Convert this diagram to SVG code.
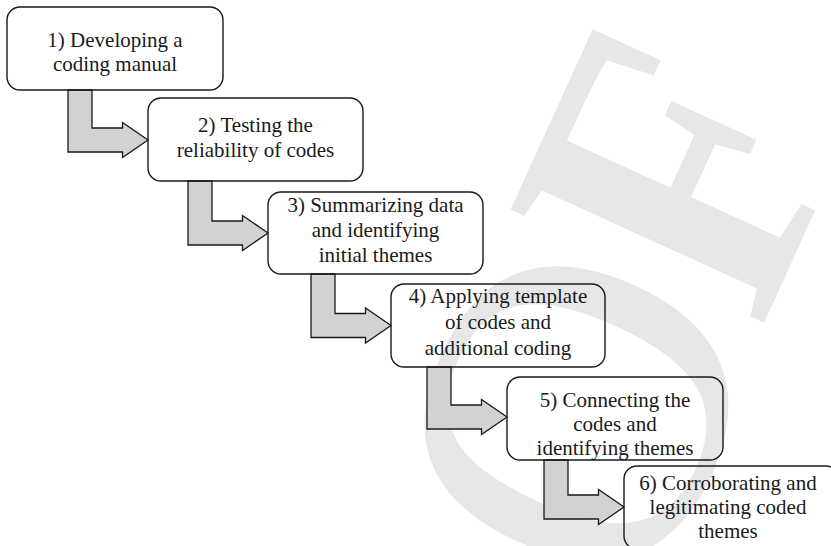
<svg xmlns="http://www.w3.org/2000/svg" width="831" height="546" viewBox="0 0 831 546">
  <style>
    .wm { font-family: "Liberation Serif", "Times New Roman", serif; fill: #e6e7e8; }
    .box { fill: none; stroke: #1a1a1a; stroke-width: 1.4; }
    .arrow { fill: #d2d2d2; stroke: #1a1a1a; stroke-width: 1.3; stroke-linejoin: miter; }
    .lbl { font-family: "Liberation Serif", "Times New Roman", serif; font-size: 21px; fill: #1a1a1a; text-anchor: middle; }
  </style>
  <rect width="831" height="546" fill="#ffffff"/>

  <!-- background watermark letters -->
  <g id="watermark">
    <text class="wm" font-size="440" transform="translate(641.6,617.9) rotate(-65.5)">O</text>
    <text class="wm" font-size="424" font-weight="bold" transform="translate(760.5,330.5) rotate(-65.5) scale(0.857,1)">F</text>
  </g>

  <!-- bent block arrows between steps -->
  <g id="connectors">
    <path class="arrow" d="M68,90 L92,90 L92,128 L122.5,128 L122.5,122.5 L148,140 L122.5,157.5 L122.5,152 L68,152 Z"/>
    <path class="arrow" d="M188,181 L212,181 L212,221 L242.5,221 L242.5,215.5 L268,233 L242.5,250.5 L242.5,245 L188,245 Z"/>
    <path class="arrow" d="M311,274 L335,274 L335,313.5 L365.5,313.5 L365.5,308 L391,325.5 L365.5,343 L365.5,337.5 L311,337.5 Z"/>
    <path class="arrow" d="M427,367 L451,367 L451,405 L481.5,405 L481.5,399.5 L507,417 L481.5,434.5 L481.5,429 L427,429 Z"/>
    <path class="arrow" d="M544,460 L568,460 L568,495 L598.5,495 L598.5,489.5 L624,507 L598.5,524.5 L598.5,519 L544,519 Z"/>
  </g>

  <g id="step1">
    <rect class="box" x="7" y="7" width="216" height="83" rx="13"/>
    <text class="lbl" x="115" y="47">1) Developing a</text>
    <text class="lbl" x="115" y="71">coding manual</text>
  </g>
  <g id="step2">
    <rect class="box" x="148" y="98" width="215" height="83" rx="13"/>
    <text class="lbl" x="255.5" y="132">2) Testing the</text>
    <text class="lbl" x="255.5" y="157">reliability of codes</text>
  </g>
  <g id="step3">
    <rect class="box" x="268" y="192" width="215" height="82" rx="13"/>
    <text class="lbl" x="375.5" y="212">3) Summarizing data</text>
    <text class="lbl" x="375.5" y="237">and identifying</text>
    <text class="lbl" x="375.5" y="262">initial themes</text>
  </g>
  <g id="step4">
    <rect class="box" x="391" y="284" width="214" height="83" rx="13"/>
    <text class="lbl" x="498" y="303">4) Applying template</text>
    <text class="lbl" x="498" y="329">of codes and</text>
    <text class="lbl" x="498" y="355">additional coding</text>
  </g>
  <g id="step5">
    <rect class="box" x="507" y="377" width="216" height="83" rx="13"/>
    <text class="lbl" x="615" y="407">5) Connecting the</text>
    <text class="lbl" x="615" y="431">codes and</text>
    <text class="lbl" x="615" y="455">identifying themes</text>
  </g>
  <g id="step6">
    <rect class="box" x="624" y="466" width="215" height="83" rx="13"/>
    <text class="lbl" x="728" y="490">6) Corroborating and</text>
    <text class="lbl" x="728" y="514">legitimating coded</text>
    <text class="lbl" x="728" y="538">themes</text>
  </g>
</svg>
